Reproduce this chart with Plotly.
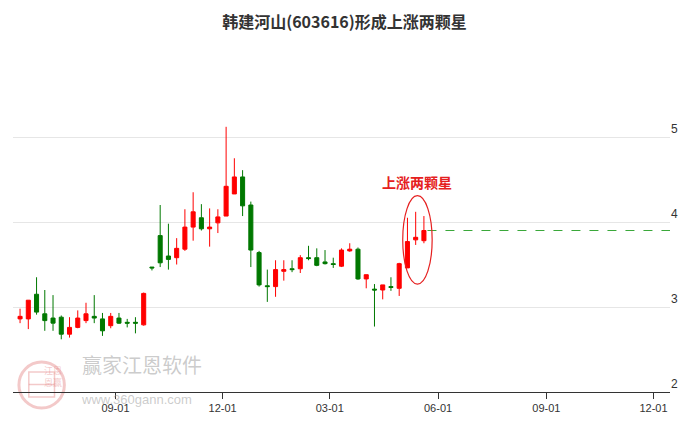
import plotly.graph_objects as go
import pandas as pd

title_text = "韩建河山(603616)形成上涨两颗星"
signal_label = "上涨两颗星"

dates = pd.date_range("2023-06-12", periods=50, freq="7D")

opens = [2.86, 2.86, 3.15, 2.92, 2.87, 2.88, 2.68, 2.76, 2.84, 2.89,
         2.86, 2.78, 2.87, 2.82, 2.82, 2.79, 3.47, 3.84, 3.60, 3.58,
         3.68, 3.94, 4.05, 3.92, 3.99, 4.07, 4.33, 4.53, 4.20, 3.64,
         3.25, 3.24, 3.42, 3.45, 3.45, 3.58, 3.58, 3.53, 3.51, 3.48,
         3.66, 3.68, 3.33, 3.21, 3.20, 3.24, 3.22, 3.46, 3.79, 3.78]
highs = [2.98, 3.08, 3.35, 3.20, 3.14, 2.90, 2.88, 2.96, 3.05, 3.14,
         2.93, 2.93, 2.93, 2.86, 2.88, 3.17, 3.47, 4.20, 3.98, 3.81,
         4.15, 4.35, 4.21, 4.16, 4.15, 5.12, 4.75, 4.61, 4.24, 3.66,
         3.44, 3.55, 3.55, 3.55, 3.61, 3.72, 3.69, 3.67, 3.58, 3.69,
         3.75, 3.70, 3.38, 3.27, 3.26, 3.35, 3.52, 4.05, 4.12, 4.07]
lows = [2.81, 2.74, 2.91, 2.72, 2.72, 2.62, 2.64, 2.75, 2.81, 2.81,
        2.66, 2.75, 2.80, 2.76, 2.69, 2.78, 3.43, 3.47, 3.44, 3.50,
        3.66, 3.78, 3.90, 3.71, 3.87, 4.07, 4.33, 4.07, 3.47, 3.24,
        3.06, 3.12, 3.31, 3.41, 3.40, 3.55, 3.48, 3.50, 3.46, 3.47,
        3.65, 3.32, 3.22, 2.77, 3.09, 3.19, 3.13, 3.46, 3.73, 3.75]
closes = [2.89, 3.08, 2.94, 2.84, 2.81, 2.68, 2.76, 2.87, 2.92, 2.87,
          2.72, 2.89, 2.81, 2.81, 2.81, 3.16, 3.46, 3.52, 3.56, 3.69,
          3.94, 4.12, 3.92, 3.94, 4.06, 4.42, 4.53, 4.19, 3.67, 3.26,
          3.24, 3.44, 3.44, 3.44, 3.58, 3.57, 3.49, 3.51, 3.50, 3.67,
          3.68, 3.33, 3.38, 3.20, 3.26, 3.23, 3.51, 3.77, 3.82, 3.90]

y_ticks = [2, 3, 4, 5]

# layout geometry (pixels)
W, H = 689, 427
L, R, T, B = 13, 11, 50, 35
pw, ph = W - L - R, H - T - B
def px(x):
    return (x - L) / pw
def py(y):
    return (H - B - y) / ph

fig = go.Figure()
fig.add_trace(go.Candlestick(
    x=dates, open=opens, high=highs, low=lows, close=closes,
    increasing=dict(line=dict(color="#ff0000", width=1), fillcolor="#ff0000"),
    decreasing=dict(line=dict(color="#007800", width=1), fillcolor="#007800"),
    whiskerwidth=0, showlegend=False, hoverinfo="x+y"
))

last_date = dates[-1]
fig.add_shape(type="line", xref="x", yref="y",
              x0=last_date + pd.Timedelta(days=3), x1="2024-12-20",
              y0=closes[-1], y1=closes[-1],
              line=dict(color="#3aa83a", width=1.2, dash="dash"))

fig.add_shape(type="circle", xref="x", yref="y",
              x0="2024-05-02", x1="2024-05-27", y0=3.27, y1=4.31,
              line=dict(color="#e52020", width=1.2))

fig.add_annotation(x="2024-05-14", y=4.33, xref="x", yref="y",
                   text=f"<b>{signal_label}</b>", showarrow=False,
                   font=dict(family="Noto Sans CJK SC", size=14, color="#e52020"),
                   yanchor="bottom")

# watermark
wm_pink = "rgba(225,120,120,0.40)"
fig.add_shape(type="circle", xref="paper", yref="paper",
              x0=px(19), x1=px(65), y0=py(408), y1=py(362),
              line=dict(color=wm_pink, width=3),
              fillcolor="rgba(0,0,0,0)", layer="below")
fig.add_shape(type="rect", xref="paper", yref="paper",
              x0=px(29), x1=px(55), y0=py(397), y1=py(372),
              line=dict(color=wm_pink, width=1.5),
              fillcolor="rgba(0,0,0,0)", layer="below")
fig.add_shape(type="line", xref="paper", yref="paper",
              x0=px(29), x1=px(55), y0=py(384.5), y1=py(384.5),
              line=dict(color=wm_pink, width=1.5), layer="below")
fig.add_annotation(x=px(42), y=py(378.5), xref="paper", yref="paper",
                   text="江恩", showarrow=False,
                   font=dict(family="Noto Sans CJK SC", size=9, color=wm_pink))
fig.add_annotation(x=px(42), y=py(391), xref="paper", yref="paper",
                   text="恩赢", showarrow=False,
                   font=dict(family="Noto Sans CJK SC", size=9, color=wm_pink))
fig.add_annotation(x=px(81), y=py(381), xref="paper", yref="paper",
                   text="赢家江恩软件", showarrow=False, xanchor="left",
                   font=dict(family="Noto Sans CJK SC", size=20, color="rgba(160,160,160,0.55)"))
fig.add_annotation(x=px(80), y=py(409), xref="paper", yref="paper",
                   text="www.360gann.com", showarrow=False, xanchor="left",
                   font=dict(family="Liberation Sans", size=13, color="rgba(160,160,160,0.55)"))

fig.update_layout(
    width=W, height=H,
    margin=dict(l=L, r=R, t=T, b=B),
    paper_bgcolor="white", plot_bgcolor="white",
    title=dict(text=f"<b>{title_text}</b>", x=0.5, xanchor="center", y=1 - 22 / H, yanchor="middle",
               font=dict(family="Noto Sans CJK SC", size=16, color="#333333")),
    xaxis=dict(
        type="date", range=["2023-06-06", "2024-12-15"],
        rangeslider=dict(visible=False),
        tickformat="%m-%d", dtick="M3", tick0="2023-09-01",
        showgrid=False, showline=True, linecolor="#333333", linewidth=1,
        ticks="outside", ticklen=6, tickcolor="#333333",
        tickfont=dict(family="Liberation Sans", size=11, color="#333333"),
        zeroline=False,
    ),
    yaxis=dict(
        side="right", range=[2, 2 + ph / 85], tickvals=y_ticks,
        ticklabelposition="outside top",
        showgrid=True, gridcolor="#e6e6e6", gridwidth=1,
        showline=False, zeroline=False, ticks="",
        tickfont=dict(family="Liberation Sans", size=12, color="#333333"),
    ),
)

fig.write_html("out.html", config={"displayModeBar": False},
               post_script="document.body.style.margin='0';")
